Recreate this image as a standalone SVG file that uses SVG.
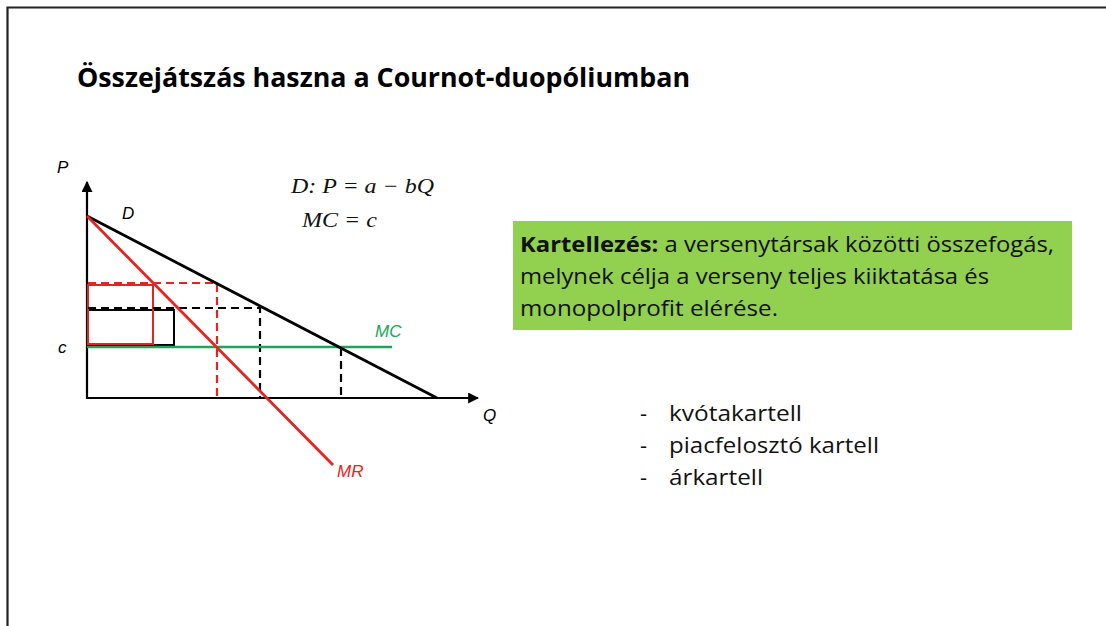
<svg xmlns="http://www.w3.org/2000/svg" width="1106" height="626" viewBox="0 0 1106 626">
<defs>
<style>
.lbl{font-family:"Liberation Sans",Arial,sans-serif;font-style:italic;font-size:17px}
.eq{font-family:"Liberation Serif","DejaVu Serif",serif;font-style:italic;font-size:21px;fill:#111}
.cal{font-family:"Open Sans","Noto Sans",sans-serif;font-size:22px;fill:#111}
.ax{stroke:#000;stroke-width:2.2;fill:none}
.dashk{stroke:#000;stroke-width:2.2;stroke-dasharray:8 5;fill:none}
.dashr{stroke:#e52421;stroke-width:2.2;stroke-dasharray:8 5;fill:none}
</style>
<marker id="arr" viewBox="0 0 10 10" refX="9" refY="5" markerWidth="5" markerHeight="5" orient="auto" markerUnits="strokeWidth">
<path d="M0,0 L10,5 L0,10 z" fill="#000"/>
</marker>
</defs>
<rect x="0" y="0" width="1106" height="626" fill="#fff"/>
<path d="M7.5,626 V7.5 H1106" fill="none" stroke="#222" stroke-width="2.2"/>
<g id="title">
<text x="77" y="87" font-family="Open Sans, Noto Sans, sans-serif" font-weight="700" font-size="27" fill="#000" textLength="613" lengthAdjust="spacingAndGlyphs">Összejátszás haszna a Cournot-duopóliumban</text>
</g>
<g id="connectors">
<line class="ax" x1="87" y1="399" x2="87" y2="182" marker-end="url(#arr)"/>
<line class="ax" x1="86" y1="398" x2="478" y2="398" marker-end="url(#arr)"/>
<rect x="88" y="310" width="86" height="35" fill="none" stroke="#000" stroke-width="2"/>
<rect x="88" y="285" width="65" height="59" fill="none" stroke="#e52421" stroke-width="2"/>
<polyline class="dashk" points="88,308 260,308 260,398"/>
<line class="dashk" x1="341" y1="348" x2="341" y2="398"/>
<polyline class="dashr" points="88,283 217,283 217,398"/>
<line x1="87" y1="347" x2="392" y2="347" stroke="#21a35b" stroke-width="2.5"/>
<line x1="87" y1="216" x2="437" y2="398" stroke="#000" stroke-width="2.8"/>
<line x1="87" y1="216" x2="333" y2="465" stroke="#e52421" stroke-width="2.8"/>
</g>
<g id="labels">
<text class="lbl" x="57" y="173">P</text>
<text class="lbl" x="122" y="219">D</text>
<text class="lbl" x="58" y="353">c</text>
<text class="lbl" x="375" y="337" fill="#21a35b">MC</text>
<text class="lbl" x="483" y="421">Q</text>
<text class="lbl" x="337" y="477" fill="#e52421">MR</text>
</g>
<g id="equations">
<text class="eq" x="291" y="193" textLength="143" lengthAdjust="spacingAndGlyphs">D: P = a − bQ</text>
<text class="eq" x="302" y="227" textLength="75" lengthAdjust="spacingAndGlyphs">MC = c</text>
</g>
<g id="definition">
<rect x="513" y="221" width="559" height="109" fill="#92d050"/>
<text class="cal" x="520" y="252" textLength="534" lengthAdjust="spacingAndGlyphs"><tspan font-weight="700">Kartellezés:</tspan> a versenytársak közötti összefogás,</text>
<text class="cal" x="520" y="284" textLength="469" lengthAdjust="spacingAndGlyphs">melynek célja a verseny teljes kiiktatása és</text>
<text class="cal" x="520" y="316" textLength="258" lengthAdjust="spacingAndGlyphs">monopolprofit elérése.</text>
</g>
<g id="list">
<text class="cal" x="640" y="421">-</text>
<text class="cal" x="669" y="421" textLength="133" lengthAdjust="spacingAndGlyphs">kvótakartell</text>
<text class="cal" x="640" y="453">-</text>
<text class="cal" x="669" y="453" textLength="210" lengthAdjust="spacingAndGlyphs">piacfelosztó kartell</text>
<text class="cal" x="640" y="485">-</text>
<text class="cal" x="669" y="485" textLength="94" lengthAdjust="spacingAndGlyphs">árkartell</text>
</g>
</svg>
